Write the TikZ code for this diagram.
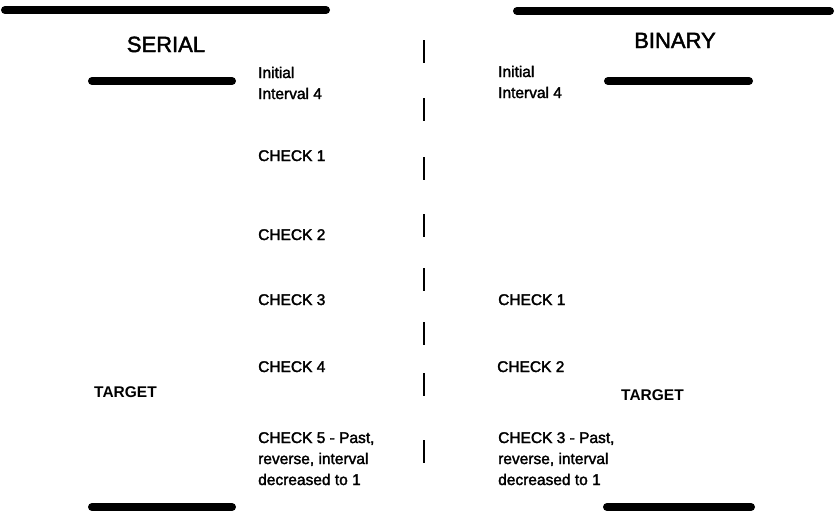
\documentclass[tikz,border=0pt]{standalone}
\usepackage{fontspec}
\setmainfont{Liberation Sans}
\newfontfamily\printfont[FakeBold=2]{Liberation Sans}
\usepackage{tikz}

\begin{document}
\begin{tikzpicture}[x=1pt, y=-1pt,
  bar/.style={line width=8pt, line cap=round},
  divider/.style={line width=1.4pt},
  head/.style={inner sep=0pt, anchor=base, font=\printfont\fontsize{22}{26}\selectfont},
  lbl/.style={inner sep=0pt, anchor=base west, align=left,
              font=\printfont\fontsize{15.5}{21}\selectfont},
  tgt/.style={inner sep=0pt, anchor=base west, font=\bfseries\fontsize{15.5}{21}\selectfont}]
  \useasboundingbox (0,0) rectangle (839,512);
  % column headings
  \node[head] (serial) at (166,52) {SERIAL};
  \node[head] (binary) at (675,48) {BINARY};
  % heavy rules
  \draw[bar] (5,10) -- (326,10);
  \draw[bar] (517,11) -- (830,11);
  \draw[bar] (92,81) -- (232,81);
  \draw[bar] (608,81) -- (749,81);
  \draw[bar] (92,507) -- (232,507);
  \draw[bar] (607,507) -- (751,507);
  % dashed divider between the two searches
  \foreach \y in {40,98,157,214,268,322,373,440}
    \draw[divider] (424,\y) -- ++(0,23);
  % serial search steps (multi-line nodes sit on their last baseline)
  \node[lbl] (sinit) at (258,99)  {Initial\\Interval 4};
  \node[lbl] (schk1) at (258,161) {CHECK 1};
  \node[lbl] (schk2) at (258,240) {CHECK 2};
  \node[lbl] (schk3) at (258,305) {CHECK 3};
  \node[lbl] (schk4) at (258,372) {CHECK 4};
  \node[tgt] (stgt)  at (94,397)  {TARGET};
  \node[lbl] (schk5) at (258,485) {CHECK 5 - Past,\\reverse, interval\\decreased to 1};
  % binary search steps
  \node[lbl] (binit) at (498,98)  {Initial\\Interval 4};
  \node[lbl] (bchk1) at (498,305) {CHECK 1};
  \node[lbl] (bchk2) at (497,372) {CHECK 2};
  \node[tgt] (btgt)  at (621,400) {TARGET};
  \node[lbl] (bchk3) at (498,485) {CHECK 3 - Past,\\reverse, interval\\decreased to 1};
\end{tikzpicture}
\end{document}
